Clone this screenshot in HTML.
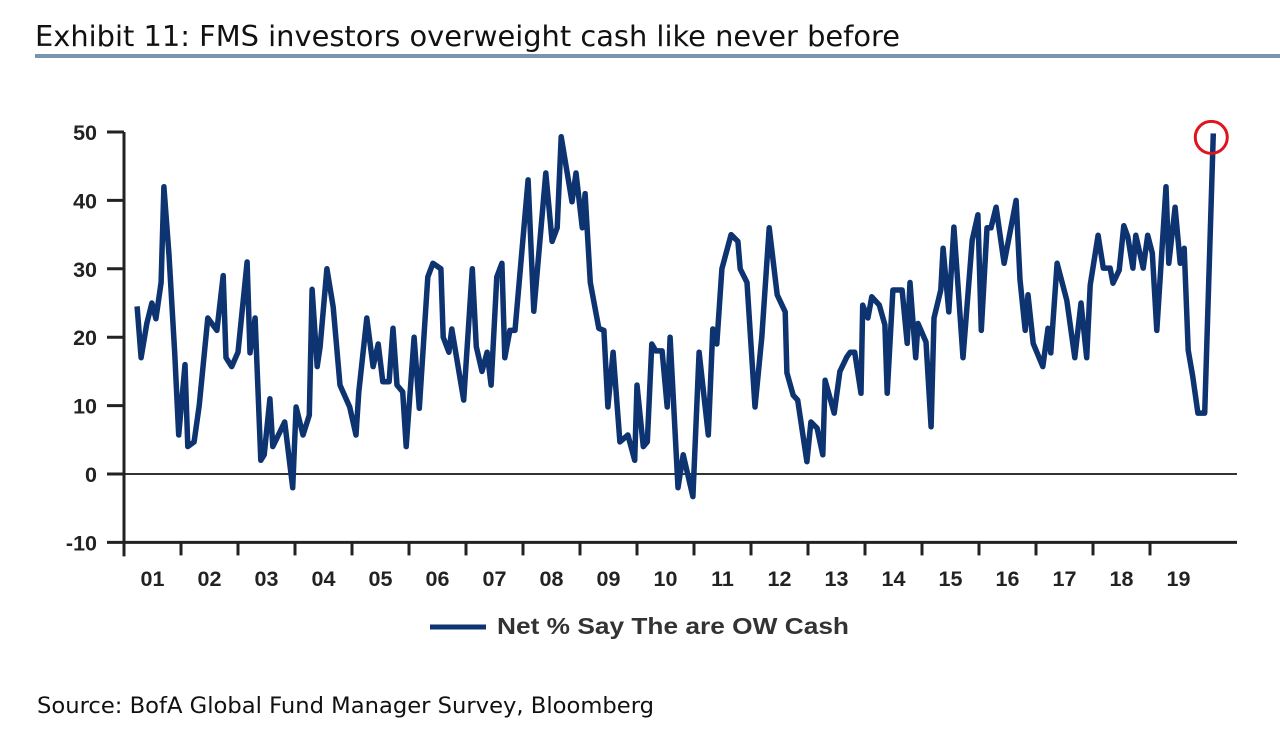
<!DOCTYPE html>
<html><head><meta charset="utf-8"><style>
body{margin:0;background:#fff;width:1280px;height:747px;overflow:hidden;font-family:"Liberation Sans",sans-serif}
</style></head><body>
<svg width="1280" height="747">
<text x="35" y="46" font-size="28.5" fill="#111" font-weight="500" textLength="865" lengthAdjust="spacingAndGlyphs" font-family="DejaVu Sans, Liberation Sans, sans-serif">Exhibit 11: FMS investors overweight cash like never before</text>
<rect x="35" y="54" width="1245" height="4" fill="#7895b0"/>
<g id="plot"></g>
<line x1="430" y1="627" x2="486" y2="627" stroke="#0d3370" stroke-width="5"/>
<text x="497" y="634" font-size="23.5" font-weight="bold" fill="#333" textLength="352" lengthAdjust="spacingAndGlyphs">Net % Say The are OW Cash</text>
<text x="37" y="713" font-size="22.5" fill="#111" textLength="617" lengthAdjust="spacingAndGlyphs" font-family="DejaVu Sans, Liberation Sans, sans-serif">Source: BofA Global Fund Manager Survey, Bloomberg</text>
</svg>
<script>
const yTicks=[50,40,30,20,10,0,-10];
const yearLabels=["01","02","03","04","05","06","07","08","09","10","11","12","13","14","15","16","17","18","19"];
const times=[0.23,0.30,0.40,0.49,0.56,0.65,0.70,0.79,0.89,0.96,1.07,1.12,1.23,1.32,1.47,1.63,1.74,1.79,1.89,2.00,2.16,2.21,2.30,2.40,2.46,2.56,2.61,2.82,2.96,3.02,3.14,3.25,3.30,3.39,3.44,3.56,3.67,3.79,3.96,4.07,4.12,4.26,4.37,4.46,4.54,4.65,4.72,4.79,4.89,4.95,5.09,5.18,5.33,5.42,5.56,5.60,5.70,5.75,5.96,6.11,6.18,6.28,6.37,6.44,6.54,6.63,6.68,6.77,6.86,7.09,7.19,7.40,7.51,7.60,7.67,7.86,7.93,8.04,8.09,8.18,8.33,8.42,8.49,8.58,8.70,8.84,8.96,9.00,9.11,9.18,9.26,9.33,9.44,9.53,9.58,9.72,9.81,9.98,10.09,10.25,10.33,10.40,10.49,10.65,10.77,10.81,10.93,11.07,11.19,11.32,11.46,11.60,11.63,11.74,11.82,11.98,12.05,12.16,12.26,12.30,12.46,12.56,12.68,12.74,12.82,12.93,12.96,13.05,13.12,13.25,13.35,13.39,13.49,13.65,13.74,13.79,13.89,13.93,14.07,14.16,14.21,14.33,14.37,14.47,14.56,14.72,14.88,14.98,15.04,15.14,15.21,15.30,15.44,15.65,15.72,15.81,15.86,15.95,16.12,16.21,16.26,16.37,16.54,16.68,16.79,16.89,16.95,17.09,17.18,17.30,17.35,17.46,17.54,17.61,17.70,17.75,17.88,17.96,18.04,18.12,18.28,18.33,18.44,18.53,18.60,18.67,18.75,18.84,18.96,19.11];
const values=[24.5,17,22,25,22.7,28,42,32,17.7,5.7,16,4,4.7,10,22.8,21,29,17,15.7,17.8,31,17.7,22.8,2,2.8,11,4,7.6,-2,9.8,5.7,8.6,27,15.7,18.6,30,24.4,13,9.8,5.7,12,22.8,15.7,19,13.5,13.5,21.3,13,12,4,20,9.6,28.8,30.8,30,20,17.8,21.2,10.8,30,18.6,15,17.8,13,28.8,30.8,17,21,21,43,23.8,44,34,36,49.3,39.8,44,36,41,28,21.3,21,9.8,17.8,4.7,5.7,2,13,4,4.7,19,18,18,9.8,20,-2,2.8,-3.3,17.8,5.7,21.2,19,30,35,34,30,28,9.8,20,36,26.2,23.7,14.8,11.5,10.8,1.8,7.6,6.7,2.8,13.7,8.9,15,17.1,17.8,17.8,11.8,24.7,22.8,25.9,24.7,21.8,11.8,26.9,26.9,19.1,28,17,22,19.3,6.9,22.8,26.9,33,23.7,36.1,17,34.2,37.9,21,36,36,39,30.8,40,28.4,21,26.2,19.1,15.7,21.3,17.7,30.8,25.4,17,25,17,27.6,34.9,30.1,30.1,27.9,29.8,36.3,34.7,30.1,34.9,30.1,34.9,32.3,21,42,30.8,39,30.8,33,18.1,14.2,8.9,8.9,49.8];
const ns="http://www.w3.org/2000/svg";
const g=document.getElementById('plot');
const X0=124,XS=57,Y0=474,YS=6.84;
const xs=t=>X0+t*XS, ys=v=>Y0-v*YS;
function mk(tag,attrs){const e=document.createElementNS(ns,tag);for(const k in attrs)e.setAttribute(k,attrs[k]);g.appendChild(e);return e;}
let zl=mk('line',{x1:X0,x2:1237,y1:ys(0),y2:ys(0),stroke:'#333','stroke-width':2});


let xa=mk('line',{x1:X0,x2:1237,y1:ys(-10),y2:ys(-10),stroke:'#222','stroke-width':3});


let ya=mk('line',{x1:X0,x2:X0,y1:ys(50),y2:ys(-10)+14,stroke:'#222','stroke-width':3});


yTicks.forEach(v=>{
 let t=mk('line',{x1:107,x2:X0,y1:ys(v),y2:ys(v),stroke:'#222','stroke-width':3});
 
 
 let l=mk('text',{x:97,y:ys(v)+8,'text-anchor':'end','font-size':21.5,'font-weight':'bold',fill:'#222'});
 l.textContent=v;
 
 
});
yearLabels.forEach((s,i)=>{
 if(i>0){let t=mk('line',{x1:xs(i),x2:xs(i),y1:ys(-10),y2:ys(-10)+13,stroke:'#222','stroke-width':3});
 
 }
 let l=mk('text',{x:xs(i+0.5),y:586,'text-anchor':'middle','font-size':21.5,'font-weight':'bold',fill:'#222'});
 l.textContent=s;
 
 
});
let d=times.map((t,i)=>(i?'L':'M')+xs(t).toFixed(1)+','+ys(values[i]).toFixed(1)).join(' ');
let p=mk('path',{d:d,fill:'none',stroke:'#0d3370','stroke-width':5.5,'stroke-linejoin':'round'});


const li=values.length-1;
let c=mk('circle',{cx:xs(times[li])-2,cy:ys(values[li])+4,r:16,fill:'none',stroke:'#e0141e','stroke-width':3});


</script>
</body></html>
